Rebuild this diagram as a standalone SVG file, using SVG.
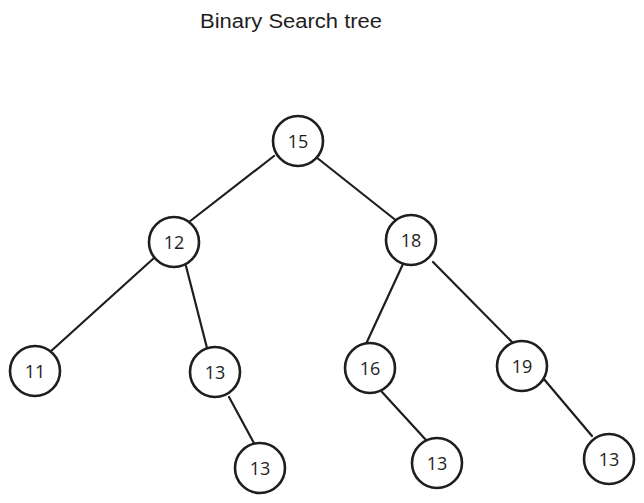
<svg xmlns="http://www.w3.org/2000/svg" width="644" height="503" viewBox="0 0 644 503">
<style>
.bg{fill:#ffffff}
.node circle{fill:#ffffff;stroke:#1e1e1e;stroke-width:2.6}
.node text{font-family:"Open Sans","Noto Sans",sans-serif;font-size:18px;fill:#1e1e1e;text-anchor:middle;dominant-baseline:central}
.edges line{stroke:#1e1e1e;stroke-width:2.2;stroke-linecap:round}
.title{font-family:"Liberation Sans",sans-serif;font-size:20px;fill:#1e1e1e}
</style>
<rect class="bg" x="0" y="0" width="644" height="503"/>
<text class="title" x="200" y="28" textLength="182" lengthAdjust="spacingAndGlyphs">Binary Search tree</text>
<g id="connectors" class="edges">
<line x1="274" y1="156" x2="189" y2="222"/>
<line x1="316" y1="157" x2="398" y2="222"/>
<line x1="154" y1="258" x2="50" y2="352"/>
<line x1="186" y1="266" x2="207" y2="348"/>
<line x1="403" y1="264" x2="366" y2="344"/>
<line x1="433" y1="262" x2="513" y2="343"/>
<line x1="229" y1="397" x2="255" y2="445"/>
<line x1="382" y1="392" x2="426" y2="440"/>
<line x1="543" y1="378" x2="592" y2="436"/>
</g>
<g id="n15" class="node"><circle cx="298" cy="141" r="25"/><text x="298" y="141">15</text></g>
<g id="n12" class="node"><circle cx="174" cy="242" r="25"/><text x="174" y="242">12</text></g>
<g id="n18" class="node"><circle cx="411" cy="240" r="25"/><text x="411" y="240">18</text></g>
<g id="n11" class="node"><circle cx="35" cy="371" r="25"/><text x="35" y="371">11</text></g>
<g id="n13a" class="node"><circle cx="215" cy="372" r="25"/><text x="215" y="372">13</text></g>
<g id="n13b" class="node"><circle cx="260" cy="468" r="25"/><text x="260" y="468">13</text></g>
<g id="n16" class="node"><circle cx="370" cy="368" r="25"/><text x="370" y="368">16</text></g>
<g id="n13c" class="node"><circle cx="437" cy="463" r="25"/><text x="437" y="463">13</text></g>
<g id="n19" class="node"><circle cx="522" cy="366" r="25"/><text x="522" y="366">19</text></g>
<g id="n13d" class="node"><circle cx="609" cy="459" r="25"/><text x="609" y="459">13</text></g>
</svg>
